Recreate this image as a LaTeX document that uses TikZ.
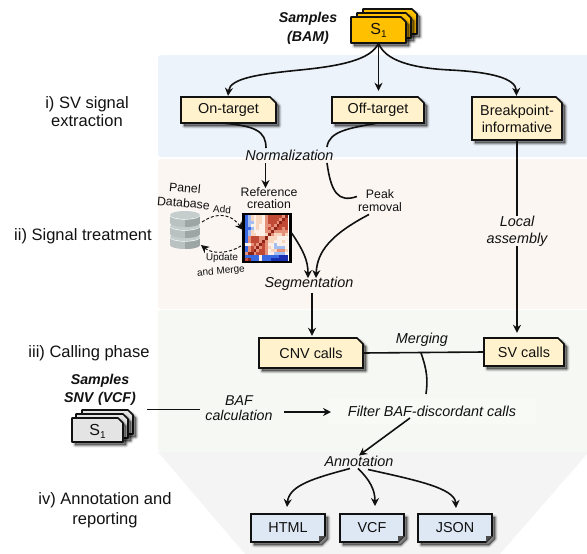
\documentclass[tikz,border=0pt]{standalone}
\usepackage{fontspec}
\setmainfont{Liberation Sans}
\usetikzlibrary{arrows.meta}
\definecolor{bgblue}{HTML}{EDF3FA}
\definecolor{bgpeach}{HTML}{FCF6F2}
\definecolor{bggreen}{HTML}{F6F8F3}
\definecolor{bggray}{HTML}{F4F4F4}
\definecolor{cream}{HTML}{FFF2CC}
\definecolor{amber}{HTML}{FFC000}
\definecolor{docblue}{HTML}{DEE8F4}
\definecolor{sgray}{HTML}{E4E4E4}
\definecolor{ink}{HTML}{111111}
\definecolor{hb}{HTML}{3A68E0}
\definecolor{hl}{HTML}{A5BEF2}
\definecolor{hw}{HTML}{FCF0E8}
\definecolor{hp}{HTML}{F8D5BF}
\definecolor{hs}{HTML}{E59078}
\definecolor{hr}{HTML}{C04A36}
\definecolor{hd}{HTML}{8E2418}
\definecolor{hn}{HTML}{1A2FB0}
\definecolor{dbl}{HTML}{B9C1C1}
\definecolor{dbd}{HTML}{9DA5A5}
\definecolor{dbt}{HTML}{C6CDCD}
\newcommand{\fs}[1]{\fontsize{#1}{#1}\selectfont}
\tikzset{
  conn/.style={line width=1.6pt,draw=ink},
  arr/.style={conn,-{Stealth[length=8pt,width=8pt]}},
  dasharr/.style={line width=.95pt,draw=ink,dash pattern=on 3pt off 2pt,-{Stealth[length=8pt,width=8pt]}},
  outline/.style={line width=1.6pt,draw=ink},
  boxtext/.style={font=\fs{14.4},text=ink,align=center,inner sep=0pt},
  lab/.style={font=\fs{14.4}\itshape,text=ink,align=center,inner sep=1pt},
  side/.style={font=\fs{16.5},text=ink,align=center,inner sep=0pt},
  small/.style={font=\fs{12.3},text=ink,align=center,inner sep=0pt},
  tiny/.style={font=\fs{10},text=ink,align=center,inner sep=0pt},
  head/.style={font=\fs{14.2}\bfseries\itshape,text=ink,align=center,inner sep=0pt},
}
% soft shadow of a closed path
\newcommand{\shad}[1]{%
  \foreach \w/\oo in {5/.07,3.5/.10,2/.14,.5/.2}{%
    \path[shift={(3,3)},fill=black,fill opacity=\oo,draw=black,draw opacity=\oo,line width=\w pt,line join=round] #1;}%
}
% box with cut top-right corner: name,x1,y1,x2,y2,fill,text
\newcommand{\boxTR}[7]{%
  \pgfmathsetmacro{\xc}{#4-6}\pgfmathsetmacro{\yc}{#3+6}%
  \pgfmathsetmacro{\xm}{(#2+#4)/2}\pgfmathsetmacro{\ym}{(#3+#5)/2}%
  \pgfmathsetmacro{\bw}{#4-#2}\pgfmathsetmacro{\bh}{#5-#3}%
  \edef\pth{(#2,#3)--(\xc,#3)--(#4,\yc)--(#4,#5)--(#2,#5)--cycle}%
  \shad{\pth}%
  \path[outline,fill=#6] \pth;%
  \node[boxtext,minimum width=\bw pt,minimum height=\bh pt] (#1) at (\xm,\ym) {#7};%
}
% box with folded bottom-right corner
\newcommand{\boxBR}[7]{%
  \pgfmathsetmacro{\xc}{#4-6}\pgfmathsetmacro{\yc}{#5-6}%
  \pgfmathsetmacro{\xm}{(#2+#4)/2}\pgfmathsetmacro{\ym}{(#3+#5)/2}%
  \pgfmathsetmacro{\bw}{#4-#2}\pgfmathsetmacro{\bh}{#5-#3}%
  \edef\pth{(#2,#3)--(#4,#3)--(#4,\yc)--(\xc,#5)--(#2,#5)--cycle}%
  \shad{\pth}%
  \path[outline,fill=#6] \pth;%
  \fill[ink!75] (#4,\yc) -- (\xc,\yc) -- (\xc,#5) -- cycle;%
  \node[boxtext,minimum width=\bw pt,minimum height=\bh pt] (#1) at (\xm,\ym) {#7};%
}
% one sheet of a stack
\newcommand{\sheet}[5]{%
  \pgfmathsetmacro{\xc}{#3-5}\pgfmathsetmacro{\yc}{#2+5}%
  \edef\pth{(#1,#2)--(\xc,#2)--(#3,\yc)--(#3,#4)--(#1,#4)--cycle}%
  \shad{\pth}%
  \path[outline,fill=#5,line join=round] \pth;%
}
\begin{document}
\begin{tikzpicture}[x=1pt,y=-1pt]
\useasboundingbox (0,0) rectangle (587,554);
% bands
\fill[bgblue,rounded corners=3pt] (158,55) rectangle (590,157);
\fill[bgpeach,rounded corners=3pt] (158,159) rectangle (590,309);
\fill[bggreen,rounded corners=3pt] (158,310) rectangle (590,452);
\fill[bggray] (158,452) -- (587,452) -- (587,454) -- (500,554) -- (245,554) -- cycle;
% side labels
\node[side] (s1) at (87,112) {i) SV signal\\[1.5pt]extraction};
\node[side] (s2) at (83,236) {ii) Signal treatment};
\node[side] (s3) at (89,353) {iii) Calling phase};
\node[side] (s4) at (105,510) {iv) Annotation and\\[4pt]reporting};
% BAM stack
\node[head,text width=70pt] (bam) at (308,28) {Samples\\[4.5pt](BAM)};
\sheet{363}{9}{417}{34}{amber}
\sheet{357}{13}{411}{38}{amber}
\sheet{351}{17}{406}{43}{amber}
\node[boxtext,font=\fs{16},minimum width=55pt,minimum height=26pt] (bamS) at (378.5,30) {S\raisebox{-3pt}{\fs{10}1}};
% extraction boxes
\boxTR{on}{181}{97}{276}{123}{cream}{On-target}
\boxTR{off}{332}{97}{424}{123}{cream}{Off-target}
\boxTR{bp}{472}{97}{562}{140}{cream}{Breakpoint-\\[2.5pt]informative}
% labels
\node[lab] (norm) at (289.5,155) {Normalization};
\node[small] (ref) at (269,198) {Reference\\[.2pt]creation};
\node[small] (peak) at (380,200.5) {Peak\\[.2pt]removal};
\node[lab] (seg) at (309,284) {Segmentation};
\node[lab] (local) at (517,231) {Local\\[2.5pt]assembly};
\node[lab] (merge) at (422,340) {Merging};
% heat map
\node[draw=black,line width=2.2pt,fill=white,minimum width=47pt,minimum height=48pt,inner sep=0pt] (hm) at (267,238) {};
\foreach \r/\row in {0/{b,l,p,w,p,p,w,s,r,r,r,r,r,s,d},
 1/{b,l,p,w,p,p,w,s,r,r,r,r,s,d,r},
 2/{b,l,l,w,p,p,w,s,r,r,r,s,d,r,r},
 3/{b,l,w,w,p,w,w,s,s,r,s,d,r,r,r},
 4/{b,b,l,w,p,w,w,s,r,s,d,r,r,s,r},
 5/{b,l,p,w,w,w,w,s,s,d,s,s,s,s,s},
 6/{b,l,p,p,w,w,w,p,d,s,p,p,p,s,p},
 7/{b,s,r,r,r,s,s,d,p,p,p,w,w,w,w},
 8/{b,s,r,r,r,s,d,s,p,p,w,w,w,p,w},
 9/{w,w,s,r,s,d,r,s,w,w,l,w,w,w,w},
 10/{b,s,r,s,d,s,r,s,p,w,l,l,l,l,w},
 11/{b,s,r,d,s,r,r,s,w,p,p,s,s,s,p},
 12/{s,d,d,s,r,r,r,s,w,w,l,l,l,l,w},
 13/{b,b,b,b,b,w,b,b,b,b,b,b,n,n,n},
 14/{r,d,b,b,b,w,b,b,b,n,n,n,n,n,n}}{
  \foreach \cc [count=\k from 0] in \row {
    \fill[h\cc] ({245+\k*2.87},{215+\r*3.07}) rectangle ({245+(\k+1)*2.87+.1},{215+(\r+1)*3.07+.1});
  }
}
% database
\foreach \yy in {237,226,215}{
  \pgfmathsetmacro{\yb}{\yy+8}
  \fill[dbl] (170,\yy) rectangle (200,\yb);
  \fill[dbl] (185,\yb) ellipse [x radius=15pt,y radius=4pt];
  \fill[dbd] (185,\yy) rectangle (200,\yb);
  \fill[dbd] (200,\yb) arc[start angle=0,end angle=-90,x radius=15pt,y radius=4pt] -- (185,\yb) -- cycle;
  \fill[white] (185,\yy) ellipse [x radius=15.6pt,y radius=4.6pt];
  \fill[dbt] (185,\yy) ellipse [x radius=15pt,y radius=4pt];
}
\node[minimum width=30pt,minimum height=36pt,inner sep=0pt] (db) at (185,230) {};
\node[small,rotate=-5] (panel) at (185,188) {Panel};
\node[small,rotate=-5] (dblabel) at (183.5,203) {Database};
\node[tiny,rotate=-4] (addl) at (222,209.5) {Add};
\node[tiny,rotate=-2] (upd) at (222,258) {Update};
\node[tiny,rotate=5] (mrgl) at (221,271.5) {and Merge};
% calls
\boxTR{cnv}{259}{338}{363}{368}{cream}{CNV calls}
\boxTR{sv}{484}{338}{564}{366}{cream}{SV calls}
% SNV stack
\node[head,text width=90pt] (snv) at (100,390) {Samples\\[4pt]SNV (VCF)};
\sheet{82}{410}{133}{434}{sgray}
\sheet{76}{414}{128}{438}{sgray}
\sheet{72}{418}{123}{442}{sgray}
\node[boxtext,font=\fs{16},minimum width=51pt,minimum height=24pt] (snvS) at (97.5,431) {S\raisebox{-3pt}{\fs{10}1}};
\node[lab,font=\fs{14.2}\itshape] (baf) at (239,408.5) {BAF\\[.5pt]calculation};
\node[lab,fill=bggreen!75!white,inner xsep=20pt,inner ysep=8pt] (filter) at (432,411) {Filter BAF-discordant calls};
\node[lab] (annot) at (359,461) {Annotation};
% output docs
\boxBR{html}{251}{514}{325}{542}{docblue}{HTML}
\boxBR{vcf}{340}{514}{404}{542}{docblue}{VCF}
\boxBR{json}{418}{514}{492}{542}{docblue}{JSON}
% connectors
\coordinate (bamOut) at (bamS.south);
\draw[arr] (bamOut) .. controls (371,60) and (340,66) .. (300,70) .. controls (260,74) and (230,78) .. ([xshift=-0.5pt,yshift=1pt]on.north);
\draw[arr] (bamOut) -- ([xshift=.5pt,yshift=6pt]off.north);
\draw[arr] (bamOut) .. controls (385,60) and (410,68) .. (450,70) .. controls (490,72) and (516,78) .. ([xshift=-0.5pt,yshift=1pt]bp.north);
\draw[conn] ([xshift=-5pt]on.south) .. controls (255,126) and (266,131) .. (266,148);
\draw[conn] ([xshift=-1pt]off.south) .. controls (350,128) and (329,131) .. (327,147);
\draw[arr] (265.5,163) -- ([yshift=-1pt,xshift=-3.5pt]ref.north);
\draw[conn] (327,163) .. controls (331,192) and (338,203) .. ([xshift=-1pt,yshift=4pt]peak.west);
\draw[arr] ([xshift=-11pt,yshift=-3pt]peak.south) .. controls (330,235) and (317,252) .. ([xshift=7pt,yshift=-2pt]seg.north);
\draw[arr] ([yshift=5pt]hm.east) .. controls (303,250) and (308,260) .. ([xshift=-1pt,yshift=-2pt]seg.north);
\draw[arr] ([xshift=3pt,yshift=-1pt]seg.south) -- ([xshift=1pt,yshift=2pt]cnv.north);
\draw[conn] (bp.south) -- ([yshift=-1pt]local.north);
\draw[arr] ([yshift=1pt]local.south) -- ([xshift=-7pt,yshift=5pt]sv.north);
\draw[conn] (cnv.east) -- (sv.west);
\coordinate (mrgpt) at (421,353);
\draw[conn] (mrgpt) .. controls (427,370) and (428,380) .. (426,394);
\draw[conn] (147,409.5) -- (200,409.5);
\draw[arr] (284,412) -- (331,412);
\draw[arr] (410,418) -- ([yshift=-1pt]annot.north);
\draw[arr] ([xshift=-9pt,yshift=-1pt]annot.south) .. controls (315,478) and (289,485) .. (287,507);
\draw[arr] ([xshift=-1pt,yshift=-1pt]annot.south) .. controls (370,480) and (375,490) .. (375,506);
\draw[arr] ([xshift=9pt,yshift=-2pt]annot.south) .. controls (415,480) and (455,488) .. (456,508);
\draw[dasharr] (202,222) .. controls (212,215) and (228,210) .. (243,230);
\draw[dasharr] (241,246) .. controls (228,254) and (212,254) .. (201,245);
\end{tikzpicture}
\end{document}
